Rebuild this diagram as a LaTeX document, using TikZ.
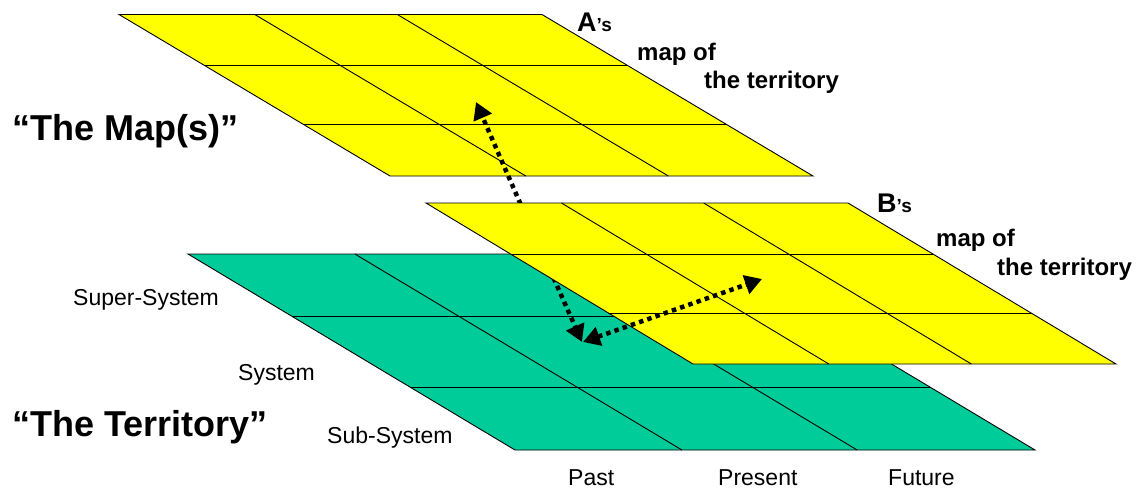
\documentclass[tikz,border=0pt]{standalone}
\usepackage{fontspec}
\setmainfont{Liberation Sans}
\usetikzlibrary{calc,arrows.meta}
\definecolor{mapyellow}{RGB}{255,255,0}
\definecolor{terrgreen}{RGB}{0,204,153}
\tikzset{
  gridline/.style={draw=black,line width=0.9pt,line join=miter},
  dotline/.style={line width=4.5pt,dash pattern=on 4.5pt off 4.2pt},
  headend/.style={-{Triangle[length=17pt,width=19pt]}},
  headboth/.style={{Triangle[length=17pt,width=19pt]}-{Triangle[length=17pt,width=19pt]}},
  biglabel/.style={anchor=base west,inner sep=0pt,font=\fontsize{36}{40}\selectfont\bfseries},
  maplabel/.style={anchor=base west,inner sep=0pt,font=\fontsize{24}{28}\selectfont\bfseries},
  axislabel/.style={anchor=base west,inner sep=0pt,font=\fontsize{23}{27}\selectfont},
}
\newcommand{\drawplane}[2]{%
  \fill[#2] (#1tl) -- (#1tr) -- (#1br) -- (#1bl) -- cycle;
  \draw[gridline] ($(#1tl)!0.317!(#1bl)$) -- ($(#1tr)!0.317!(#1br)$);
  \draw[gridline] ($(#1tl)!0.683!(#1bl)$) -- ($(#1tr)!0.683!(#1br)$);
  \draw[gridline] ($(#1tl)!0.321!(#1tr)$) -- ($(#1bl)!0.321!(#1br)$);
  \draw[gridline] ($(#1tl)!0.658!(#1tr)$) -- ($(#1bl)!0.658!(#1br)$);
  \draw[gridline] (#1tl) -- (#1tr) -- (#1br) -- (#1bl) -- cycle;
}
\begin{document}
\begin{tikzpicture}[x=1pt,y=-1pt]
\useasboundingbox (0,0) rectangle (1141,491);
% corners
\coordinate (Atl) at (119,14.5);
\coordinate (Atr) at (542,14.5);
\coordinate (Abl) at (390,176);
\coordinate (Abr) at (813,176);
\coordinate (Btl) at (426,203);
\coordinate (Btr) at (848,203);
\coordinate (Bbl) at (693,364);
\coordinate (Bbr) at (1116,364);
\coordinate (Ttl) at (188,254);
\coordinate (Ttr) at (708,254);
\coordinate (Tbl) at (515,450);
\coordinate (Tbr) at (1035,450);
% arrow end points
\coordinate (a1s) at (524,212);
\coordinate (a1e) at (476,102);
\coordinate (a2s) at (550,270);
\coordinate (a2e) at (582,342);
\coordinate (a3s) at (583,342);
\coordinate (a3e) at (762,279);

\drawplane{A}{mapyellow}
\drawplane{T}{terrgreen}
\draw[dotline,headend] (a1s) -- (a1e);
\draw[dotline,headend] (a2s) -- (a2e);
\drawplane{B}{mapyellow}
\draw[dotline,headboth] (a3s) -- (a3e);

% labels
\node[biglabel] (maps) at (12,140) {“The Map(s)”};
\node[biglabel] (terr) at (12,436) {“The Territory”};

\node[anchor=base west,inner sep=0pt,font=\bfseries] (alab) at (577,31)
  {\fontsize{27}{30}\selectfont A\fontsize{19}{22}\selectfont’s};
\node[maplabel] (amap) at (637,60) {map of};
\node[maplabel] (aterr) at (704,88) {the territory};

\node[anchor=base west,inner sep=0pt,font=\bfseries] (blab) at (877,212)
  {\fontsize{27}{30}\selectfont B\fontsize{19}{22}\selectfont’s};
\node[maplabel] (bmap) at (936,246) {map of};
\node[maplabel] (bterr) at (997,275) {the territory};

\node[axislabel] (super) at (73,305) {Super-System};
\node[axislabel] (sys) at (238,380) {System};
\node[axislabel] (sub) at (327,443) {Sub-System};
\node[axislabel] (past) at (568,485) {Past};
\node[axislabel] (pres) at (718,485) {Present};
\node[axislabel] (fut) at (888,485) {Future};
\end{tikzpicture}
\end{document}
